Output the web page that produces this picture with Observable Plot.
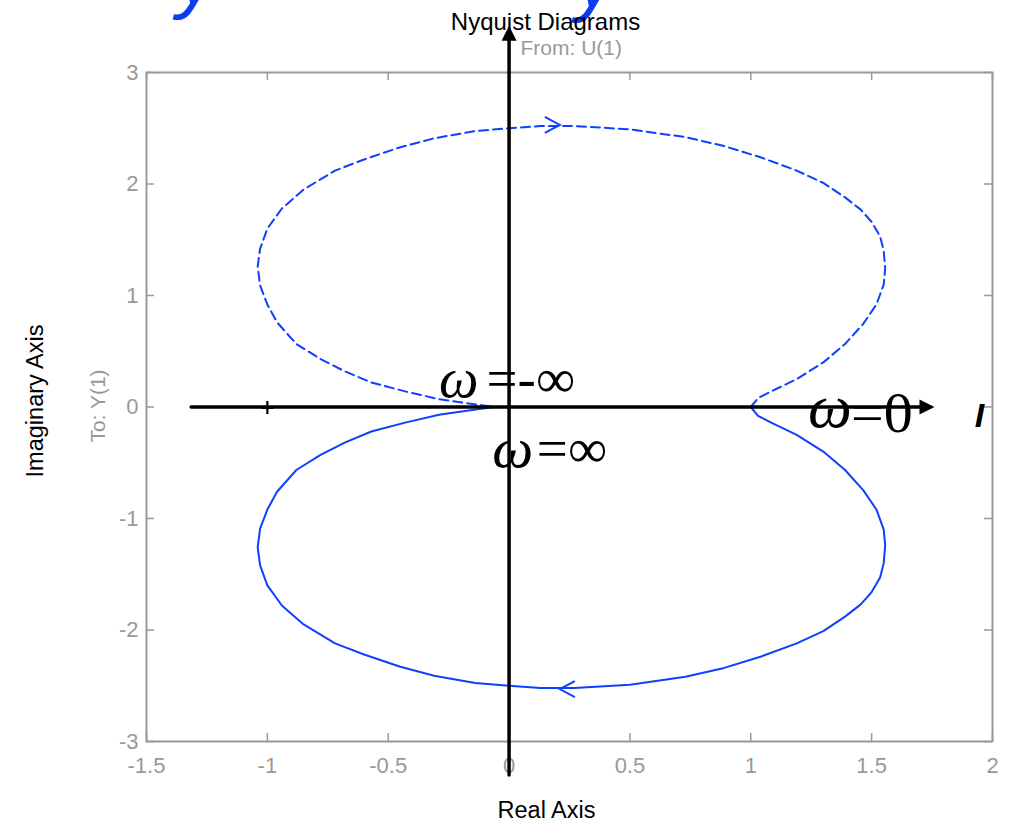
<!DOCTYPE html>
<html><head><meta charset="utf-8">
<script src="https://cdn.jsdelivr.net/npm/d3@7"></script>
<script src="https://cdn.jsdelivr.net/npm/@observablehq/plot@0.6"></script>
<style>body{margin:0;background:#fff;overflow:hidden}</style>
</head><body><div id="chart"></div>
<script>
// Nyquist curve for omega > 0 (solid); omega < 0 is its mirror (dashed)
const re = [1.0, 1.03, 1.08, 1.19, 1.30, 1.39, 1.465, 1.52, 1.55, 1.556, 1.55, 1.535, 1.50, 1.455, 1.39, 1.30, 1.19, 1.04, 0.89, 0.73, 0.50, 0.27, 0.13, 0.0, -0.14, -0.31, -0.45, -0.60, -0.72, -0.85, -0.94, -1.00, -1.03, -1.04, -1.03, -1.00, -0.96, -0.88, -0.78, -0.68, -0.57, -0.43, -0.29, -0.16, -0.06, 0.0];
const im = [0.0, -0.08, -0.135, -0.25, -0.40, -0.565, -0.745, -0.92, -1.10, -1.24, -1.40, -1.53, -1.66, -1.77, -1.88, -2.01, -2.12, -2.24, -2.34, -2.42, -2.49, -2.52, -2.52, -2.50, -2.475, -2.41, -2.33, -2.22, -2.12, -1.95, -1.78, -1.60, -1.42, -1.26, -1.09, -0.92, -0.76, -0.565, -0.43, -0.32, -0.22, -0.14, -0.07, -0.03, 0.0, 0.0];

const xTicks = [-1.5, -1, -0.5, 0, 0.5, 1, 1.5, 2];
const xTickLabels = ["-1.5", "-1", "-0.5", "0", "0.5", "1", "1.5", "2"];
const yTicks = [-3, -2, -1, 0, 1, 2, 3];
const yTickLabels = ["-3", "-2", "-1", "0", "1", "2", "3"];

// direction arrows on the curve
const curveArrows = [{x: 0.21, y: 2.53, rotate: 90}, {x: 0.21, y: -2.53, rotate: -90}];
// hand-drawn black axes
const hAxis = [{x: -1.315, y: 0}, {x: 1.70, y: 0}];
const vAxis = [{x: 0, y: -3.3}, {x: 0, y: 3.32}];
const axisHeads = [{x: 1.76, y: 0, rotate: 90}, {x: 0, y: 3.42, rotate: 0}];
const criticalPoint = [{x: -1, y: 0}];
// omega annotations: italic omega + upright remainder
const omegaParts = [
  {x: -0.29, y: 0.09, text: "ω", size: 56},
  {x: -0.07, y: -0.54, text: "ω", size: 58},
  {x: 1.237, y: -0.18, text: "ω", size: 62}
];
const restParts = [
  {x: -0.093, y: 0.09, text: "=-∞", size: 55},
  {x: 0.115, y: -0.54, text: "=∞", size: 55},
  {x: 1.415, y: -0.22, text: "=0", size: 58}
];
const stray = [{x: 1.946, y: -0.18, text: "I"}];
const blueFragments = [{x: -1.29, y: 3.62, text: "y"}, {x: 0.36, y: 3.60, text: "y"}];

const W = 1017, H = 823, ML = 146, MR = 25, MT = 72, MB = 82;
const FH = H - MT - MB, FW = W - ML - MR;
const gray = "#999999", blue = "#1040ff";
const xl = new Map(xTicks.map((t, i) => [t, xTickLabels[i]]));
const yl = new Map(yTicks.map((t, i) => [t, yTickLabels[i]]));

const solid = re.map((r, i) => ({re: r, im: im[i]}));
const dashed = re.map((r, i) => ({re: r, im: -im[i]}));

const chevron = {draw(c) { c.moveTo(-8, 15); c.lineTo(0, 0); c.lineTo(8, 15); }};
const tri = {draw(c) { c.moveTo(0, 0); c.lineTo(7.5, 15); c.lineTo(-7.5, 15); c.closePath(); }};
const plus = {draw(c) { c.moveTo(-6, 1); c.lineTo(6, 1); c.moveTo(0, -6); c.lineTo(0, 7); }};
const serif = "'Liberation Serif', 'DejaVu Serif', serif";

const chart = Plot.plot({
  width: W, height: H,
  marginLeft: ML, marginRight: MR, marginTop: MT, marginBottom: MB,
  x: {domain: [-1.5, 2]},
  y: {domain: [-3, 3]},
  style: {fontFamily: "'Liberation Sans', Arial, sans-serif", background: "white", overflow: "hidden"},
  marks: [
    Plot.text(blueFragments, {x: "x", y: "y", text: "text", fill: "#0a3cf0", fontSize: 80, fontStyle: "italic", lineAnchor: "bottom"}),
    Plot.frame({stroke: gray, strokeWidth: 2}),
    Plot.tickX(xTicks, {x: d => d, stroke: gray, strokeWidth: 1.5, insetTop: FH - 8}),
    Plot.tickX(xTicks, {x: d => d, stroke: gray, strokeWidth: 1.5, insetBottom: FH - 8}),
    Plot.tickY(yTicks, {y: d => d, stroke: gray, strokeWidth: 1.5, insetRight: FW - 8}),
    Plot.tickY(yTicks, {y: d => d, stroke: gray, strokeWidth: 1.5, insetLeft: FW - 8}),
    Plot.axisX({ticks: xTicks, tickSize: 0, tickPadding: 16, tickFormat: d => xl.get(d), fill: gray, fontSize: 22}),
    Plot.axisY({ticks: yTicks, tickSize: 0, tickPadding: 8, tickFormat: d => yl.get(d), fill: gray, fontSize: 22, label: null}),
    Plot.line(dashed, {x: "re", y: "im", stroke: blue, strokeWidth: 2, strokeDasharray: "9,5"}),
    Plot.line(solid, {x: "re", y: "im", stroke: blue, strokeWidth: 2}),
    Plot.dot(curveArrows, {x: "x", y: "y", rotate: "rotate", symbol: chevron, fill: "none", stroke: blue, strokeWidth: 2}),
    Plot.text(omegaParts, {x: "x", y: "y", text: "text", fontSize: d => d.size, fontFamily: serif, fontStyle: "italic", textAnchor: "start", lineAnchor: "bottom", fill: "black"}),
    Plot.text(restParts, {x: "x", y: "y", text: "text", fontSize: d => d.size, fontFamily: serif, textAnchor: "start", lineAnchor: "bottom", fill: "black"}),
    Plot.text(stray, {x: "x", y: "y", text: "text", fontSize: 34, fontWeight: "bold", fontStyle: "italic", lineAnchor: "bottom", fill: "black"}),
    Plot.line(hAxis, {x: "x", y: "y", stroke: "black", strokeWidth: 3.5}),
    Plot.line(vAxis, {x: "x", y: "y", stroke: "black", strokeWidth: 3.5}),
    Plot.dot(axisHeads, {x: "x", y: "y", rotate: "rotate", symbol: tri, fill: "black", stroke: "none"}),
    Plot.dot(criticalPoint, {x: "x", y: "y", symbol: plus, fill: "none", stroke: "black", strokeWidth: 2.2}),
    Plot.text(["Nyquist Diagrams"], {frameAnchor: "top", text: d => d, textAnchor: "middle", dx: -24, dy: -50, fontSize: 24, fill: "black", lineAnchor: "middle"}),
    Plot.text(["From: U(1)"], {frameAnchor: "top", text: d => d, textAnchor: "start", dx: -49, dy: -24, fontSize: 21, fill: gray, lineAnchor: "middle"}),
    Plot.text(["Real Axis"], {frameAnchor: "bottom", text: d => d, textAnchor: "middle", dx: -23, dy: 69, fontSize: 23.5, fill: "black", lineAnchor: "middle"}),
    Plot.text(["Imaginary Axis"], {frameAnchor: "left", text: d => d, textAnchor: "middle", dx: -111, dy: -6, rotate: -90, fontSize: 23.5, fill: "black", lineAnchor: "middle"}),
    Plot.text(["To: Y(1)"], {frameAnchor: "left", text: d => d, textAnchor: "middle", dx: -48, dy: -1, rotate: -90, fontSize: 21, fill: gray, lineAnchor: "middle"})
  ]
});
document.getElementById("chart").appendChild(chart);
</script>
</body></html>
